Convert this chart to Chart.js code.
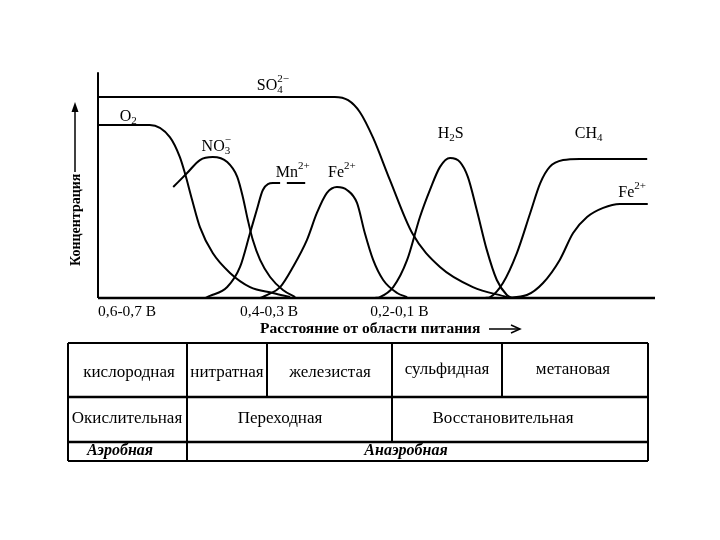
<!DOCTYPE html>
<html>
<head>
<meta charset="utf-8">
<script src="https://cdn.jsdelivr.net/npm/chart.js@4"></script>
<style>
  body { margin: 0; background: #fff; }
  canvas { display: block; }
</style>
</head>
<body>
<canvas id="zones" width="720" height="540"></canvas>
<script>
// кривые концентраций: [расстояние, концентрация] в условных единицах 0..100
const so4 = [[0,88.2],[42.5,88.2],[44.9,86.8],[47.0,81.6],[49.4,70.2],[52.4,51.8],[56.4,28.5],[61.4,13.6],[67.3,4.8],[73.4,0.4]];
const o2 = [[0,75.9],[9.3,75.9],[12.9,70.6],[14.7,61.8],[15.6,54.8],[16.9,43.0],[18.3,31.1],[20.6,19.7],[23.7,11.0],[27.3,4.8],[31.4,2.2],[34.5,0.4]];
const no3 = [[13.5,48.7],[16.0,54.8],[18.3,60.5],[20.6,61.8],[23.2,59.6],[25.0,53.1],[26.0,44.3],[26.9,34.2],[27.8,25.4],[29.1,16.7],[30.9,9.2],[33.2,3.5],[35.4,0.4]];
const mn = [[19.2,0],[20.1,0.9],[23.2,4.8],[25.5,13.6],[27.3,28.5],[28.5,38.6],[29.6,47.4],[31.4,50.4],[32.7,50.4],[33.3,null],[33.9,50.4],[37.2,50.4]];
const fe1 = [[29.1,0],[30.3,1.3],[32.7,4.8],[35.0,13.6],[37.5,25.4],[39.3,37.3],[41.1,46.1],[42.9,48.7],[44.7,47.4],[46.5,41.7],[47.9,28.5],[49.4,16.7],[51.2,7.9],[53.7,2.2],[55.5,0.4]];
const h2s = [[49.7,0],[50.6,0.4],[53.0,4.8],[55.5,16.7],[57.8,35.5],[59.6,47.4],[61.4,57.5],[63.2,61.4],[65.0,59.6],[66.4,53.1],[68.0,38.6],[69.8,21.1],[71.6,7.9],[73.4,1.3],[74.3,0]];
const ch4 = [[69.5,0],[70.4,0.4],[72.7,6.6],[75.2,19.7],[77.6,37.3],[79.4,50.4],[81.1,57.5],[83.5,60.5],[86.5,61.0],[98.6,61.0]];
const fe2 = [[73.1,0],[77.0,1.3],[79.9,6.6],[82.9,16.7],[85.3,28.5],[87.8,35.5],[90.7,39.5],[93.7,41.2],[98.7,41.2]];

// подписи кривых: текст, позиция (левый край, базовая линия) в тех же единицах
const curveLabels = [
  { parts: ['SO', ['4', 'sub'], ['2−', 'sup']], x: 28.5, y: 91.2 },
  { parts: ['O', ['2', 'sub']], x: 3.9, y: 77.6 },
  { parts: ['NO', ['3', 'sub'], ['−', 'sup']], x: 18.6, y: 64.5 },
  { parts: ['Mn', ['2+', 'sup']], x: 31.9, y: 53.1 },
  { parts: ['Fe', ['2+', 'sup']], x: 41.3, y: 53.1 },
  { parts: ['H', ['2', 'sub'], 'S'], x: 61.0, y: 70.2 },
  { parts: ['CH', ['4', 'sub']], x: 85.6, y: 70.2 },
  { parts: ['Fe', ['2+', 'sup']], x: 93.4, y: 44.3 }
];

// потенциалы под осью
const tickLabels = ['0,6-0,7 В', '0,4-0,3 В', '0,2-0,1 В'];
const tickPos = [0, 25.5, 48.9];

// зоны (нижняя таблица)
const zoneNames = ['кислородная', 'нитратная', 'железистая', 'сульфидная', 'метановая'];
const zoneTypes = ['Окислительная', 'Переходная', 'Восстановительная'];
const zoneAir = ['Аэробная', 'Анаэробная'];

const SERIF = '"Liberation Serif", "DejaVu Serif", serif';

function toPts(arr) {
  return arr.map(p => ({ x: p[0], y: p[1] }));
}

function line(ctx, x1, y1, x2, y2, w) {
  ctx.lineWidth = w || 2;
  ctx.beginPath();
  ctx.moveTo(x1, y1);
  ctx.lineTo(x2, y2);
  ctx.stroke();
}

// химическая формула с индексами
function chem(ctx, x, y, parts) {
  let cx = x, lastSubX = null;
  parts.forEach(p => {
    if (typeof p === 'string') {
      ctx.font = '16px ' + SERIF;
      ctx.fillText(p, cx, y);
      cx += ctx.measureText(p).width;
      lastSubX = null;
    } else if (p[1] === 'sub') {
      ctx.font = '11px ' + SERIF;
      ctx.fillText(p[0], cx, y + 3);
      lastSubX = cx;
      cx += ctx.measureText(p[0]).width;
    } else {
      ctx.font = '11px ' + SERIF;
      const sx = lastSubX !== null ? lastSubX : cx;
      ctx.fillText(p[0], sx, y - 8);
      cx = Math.max(cx, sx + ctx.measureText(p[0]).width);
    }
  });
}

const decor = {
  id: 'decor',
  afterDraw(chart) {
    const ctx = chart.ctx;
    const xs = chart.scales.x, ys = chart.scales.y;
    const x0 = xs.getPixelForValue(0), y0 = ys.getPixelForValue(0);
    ctx.save();
    ctx.strokeStyle = '#000';
    ctx.fillStyle = '#000';

    // оси
    line(ctx, x0, ys.getPixelForValue(99), x0, y0, 2);
    line(ctx, x0, y0, xs.getPixelForValue(100), y0, 2.5);

    // подписи кривых
    ctx.textBaseline = 'alphabetic';
    ctx.textAlign = 'left';
    curveLabels.forEach(l => chem(ctx, xs.getPixelForValue(l.x), ys.getPixelForValue(l.y), l.parts));

    // потенциалы
    ctx.font = '15.5px ' + SERIF;
    tickLabels.forEach((t, i) => ctx.fillText(t, xs.getPixelForValue(tickPos[i]), y0 + 18));

    // подпись оси X со стрелкой
    ctx.font = 'bold 15.5px ' + SERIF;
    ctx.fillText('Расстояние от области питания', 260, 333);
    line(ctx, 489, 329, 519, 329, 1.5);
    ctx.lineWidth = 1.5;
    ctx.beginPath();
    ctx.moveTo(511, 325); ctx.lineTo(520, 329); ctx.lineTo(511, 333);
    ctx.stroke();

    // подпись оси Y со стрелкой
    ctx.save();
    ctx.translate(80, 266);
    ctx.rotate(-Math.PI / 2);
    ctx.font = 'bold 14px ' + SERIF;
    ctx.fillText('Концентрация', 0, 0);
    ctx.restore();
    line(ctx, 75, 172, 75, 110, 1.5);
    ctx.beginPath();
    ctx.moveTo(75, 102); ctx.lineTo(71.5, 112); ctx.lineTo(78.5, 112);
    ctx.closePath();
    ctx.fill();

    // таблица зон
    const L = 68, R = 648, T = 343, r1 = 397, r2 = 442, B = 461;
    line(ctx, L, T, R, T, 2);
    line(ctx, L, r1, R, r1, 2.5);
    line(ctx, L, r2, R, r2, 2.5);
    line(ctx, L, B, R, B, 2);
    line(ctx, L, T, L, B, 2);
    line(ctx, R, T, R, B, 2);
    line(ctx, 187, T, 187, B, 2);
    line(ctx, 267, T, 267, r1, 2);
    line(ctx, 392, T, 392, r2, 2);
    line(ctx, 502, T, 502, r1, 2);

    ctx.textAlign = 'center';
    ctx.textBaseline = 'middle';
    ctx.font = '17px ' + SERIF;
    const zx = [129, 227, 330, 447, 573];
    const zy = [373, 373, 373, 370, 370];
    zoneNames.forEach((t, i) => ctx.fillText(t, zx[i], zy[i]));
    const tx = [127, 280, 503];
    zoneTypes.forEach((t, i) => ctx.fillText(t, tx[i], 419));
    ctx.font = 'bold italic 16px ' + SERIF;
    ctx.fillText(zoneAir[0], 120, 451);
    ctx.fillText(zoneAir[1], 406, 451);
    ctx.restore();
  }
};

function ds(arr) {
  return {
    data: toPts(arr),
    borderColor: '#000',
    borderWidth: 2,
    pointRadius: 0,
    fill: false,
    spanGaps: false,
    cubicInterpolationMode: 'monotone'
  };
}

new Chart(document.getElementById('zones'), {
  type: 'line',
  data: { datasets: [so4, o2, no3, mn, fe1, h2s, ch4, fe2].map(ds) },
  options: {
    responsive: false,
    animation: false,
    devicePixelRatio: 1,
    layout: { padding: { left: 98, right: 65, top: 70, bottom: 242 } },
    plugins: { legend: { display: false }, tooltip: { enabled: false } },
    scales: {
      x: { type: 'linear', min: 0, max: 100, display: false },
      y: { min: 0, max: 100, display: false }
    }
  },
  plugins: [decor]
});
</script>
</body>
</html>
